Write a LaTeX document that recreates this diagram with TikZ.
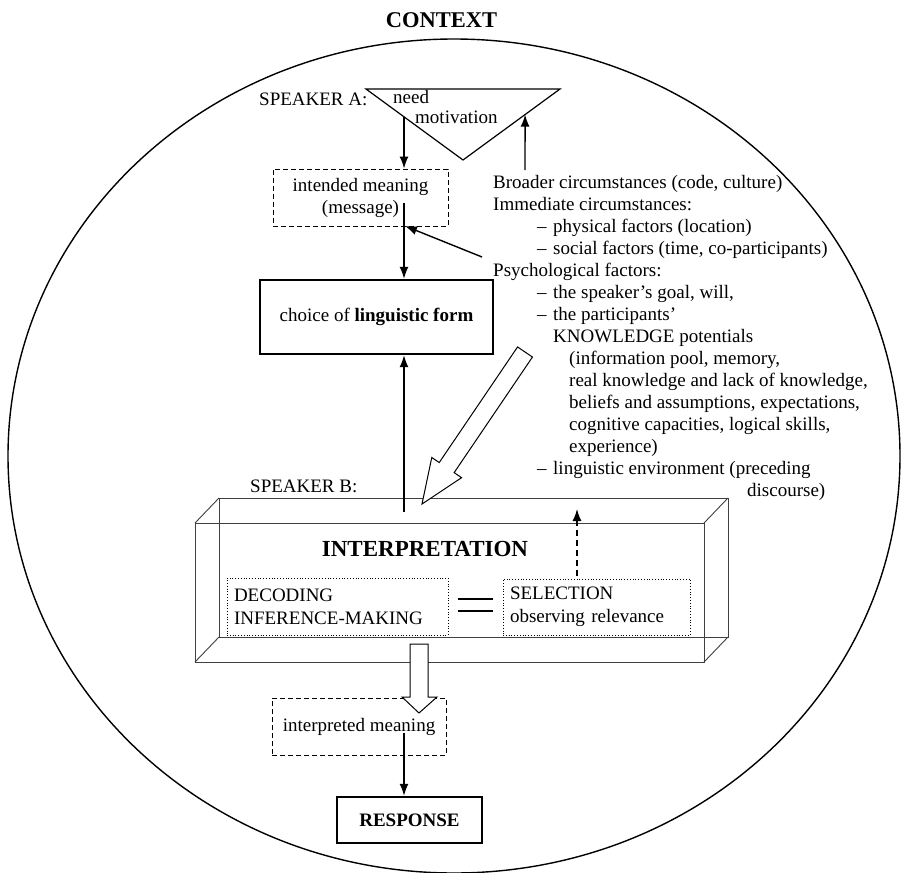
\documentclass[tikz,border=0pt]{standalone}
\usepackage{fontspec}
\setmainfont{Liberation Serif}
\usetikzlibrary{calc,arrows.meta}
\begin{document}
\begin{tikzpicture}[x=1pt,y=-1pt,
  txt/.style={inner sep=0pt, font=\fontsize{19}{22}\selectfont, anchor=base west},
  arr/.style={line width=1.4pt, -{Latex[length=12pt,width=9pt]}},
  darr/.style={line width=1.4pt, dash pattern=on 6pt off 4pt, -{Latex[length=12pt,width=9pt]}},
  dashbox/.style={draw, dash pattern=on 5pt off 3pt, line width=0.9pt, inner sep=0pt, align=center, font=\fontsize{19}{22}\selectfont},
  thickbox/.style={draw, line width=2.4pt, inner sep=0pt, align=center, font=\fontsize{19}{22}\selectfont},
  dotbox/.style={draw, dotted, line width=0.8pt, inner xsep=7pt, inner ysep=0pt, align=left, font=\fontsize{19}{23}\selectfont},
  boxline/.style={draw=black!75, line width=0.9pt},
  hollow/.style={draw, fill=white, line width=1pt, line join=miter}
]
\useasboundingbox (0,0) rectangle (901,872);
\fill[white] (0,0) rectangle (901,872);

% context ellipse
\draw[line width=1.4pt] (454,456) ellipse [x radius=446pt, y radius=417pt];
\node[inner sep=0pt, anchor=base, font=\fontsize{22.5}{26}\selectfont\bfseries] (ctx) at (441.5,28) {CONTEXT};

% speaker A and triangle
\node[txt] (spa) at (259,106) {SPEAKER A:};
\coordinate (tA) at (366,89);
\coordinate (tB) at (560,89);
\coordinate (tC) at (463,160);
\draw[line width=1.2pt] (tA) -- (tB) -- (tC) -- cycle;
\node[txt] (need) at (393,104) {need};
\node[txt] (motiv) at (415,123) {motivation};

% intended meaning
\node[dashbox, minimum width=175pt, minimum height=57pt] (intended) at (360.5,197.5) {intended meaning\\(message)};

% choice of linguistic form
\node[thickbox, minimum width=233pt, minimum height=74pt] (choice) at (376.5,317) {choice of \textbf{linguistic form}};

% right text block
\node[txt] (r1) at (493,188) {Broader circumstances (code, culture)};
\node[txt] (r2) at (493,210) {Immediate circumstances:};
\node[txt] (r3) at (537,232) {\makebox[16pt][l]{–}physical factors (location)};
\node[txt] (r4) at (537,254) {\makebox[16pt][l]{–}social factors (time, co-participants)};
\node[txt] (r5) at (493,276) {Psychological factors:};
\node[txt] (r6) at (537,298) {\makebox[16pt][l]{–}the speaker’s goal, will,};
\node[txt] (r7) at (537,320) {\makebox[16pt][l]{–}the participants’};
\node[txt] (r8) at (553,342) {KNOWLEDGE potentials};
\node[txt] (r9) at (569,364) {(information pool, memory,};
\node[txt] (r10) at (569,386) {real knowledge and lack of knowledge,};
\node[txt] (r11) at (569,408) {beliefs and assumptions, expectations,};
\node[txt] (r12) at (569,430) {cognitive capacities, logical skills,};
\node[txt] (r13) at (569,452) {experience)};
\node[txt] (r14) at (537,474) {\makebox[16pt][l]{–}linguistic environment (preceding};
\node[txt] (r15) at (747,496) {discourse)};

% speaker B
\node[txt] (spb) at (250,492) {SPEAKER B:};

% 3D box
\draw[boxline] (219,498) rectangle (728,637);
\draw[boxline] (195,523) rectangle (704,662);
\draw[boxline] (195,523) -- (219,498) (704,523) -- (728,498)
                (195,662) -- (219,637) (704,662) -- (728,637);
\node[inner sep=0pt, anchor=base, font=\fontsize{23}{26}\selectfont\bfseries] (interp) at (425,556) {INTERPRETATION};
\node[dotbox, minimum width=221pt, minimum height=57pt, text width=207pt] (dec) at (337.5,606.5) {DECODING\\INFERENCE-MAKING};
\node[dotbox, minimum width=187pt, minimum height=56pt, text width=173pt] (sel) at (596.5,607) {SELECTION\\observing relevance};
\coordinate (eqL) at (458,599);
\coordinate (eqR) at (493,599);
\draw[line width=1.1pt] (eqL) -- (eqR) ($(eqL)+(0,12)$) -- ($(eqR)+(0,12)$);

% interpreted meaning and response
\node[dashbox, minimum width=174pt, minimum height=57pt] (interpreted) at (359,726.5) {interpreted meaning};
\node[thickbox, minimum width=145pt, minimum height=46pt, font=\fontsize{19}{22}\selectfont\bfseries] (resp) at (409.5,820) {RESPONSE};

% hollow arrows
\coordinate (hT) at (525,352);
\coordinate (hP) at (422,504);
\coordinate (hN) at ($(hP)!44pt!(hT)$);
\draw[hollow] ($(hT)!9pt!90:(hP)$) -- ($(hN)!9pt!90:(hP)$) -- ($(hN)!18pt!90:(hP)$) -- (hP)
   -- ($(hN)!18pt!-90:(hP)$) -- ($(hN)!9pt!-90:(hP)$) -- ($(hT)!9pt!-90:(hP)$) -- cycle;
\draw[hollow] (410,644) -- (410,697) -- (402,697) -- (419,713) -- (437,697) -- (428,697) -- (428,644) -- cycle;

% connectors
\coordinate (tstart) at ($(tA)!0.392!(tC)$);
\draw[arr] (tstart) -- (tstart |- intended.north);
\coordinate (msg) at (404,203);
\draw[arr] (msg) -- (msg |- choice.north);
\coordinate (brd) at (525,170);
\coordinate (brdend) at ($(tB)!0.36!(tC)$);
\draw[arr] (brd) -- (brdend);
\coordinate (psy) at (482,257);
\coordinate (psyend) at (405,226);
\draw[arr] (psy) -- (psyend);
\coordinate (bup) at (404,512);
\draw[arr] (bup) -- (bup |- choice.south);
\coordinate (dsh) at (577,576);
\coordinate (dshend) at (577,509);
\draw[darr] (dsh) -- (dshend);
\coordinate (imd) at (404,733);
\draw[arr] (imd) -- (imd |- resp.north);
\end{tikzpicture}
\end{document}
